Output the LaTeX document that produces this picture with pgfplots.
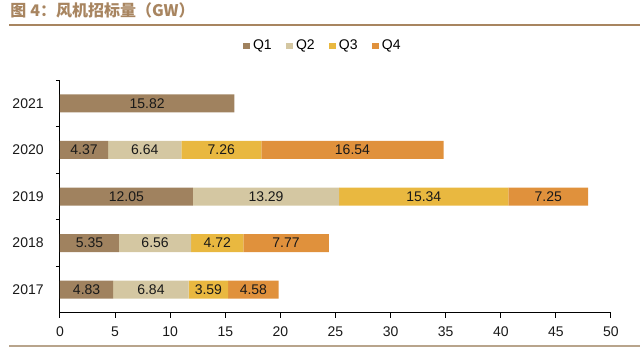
\documentclass[border=0pt]{standalone}
\usepackage{pgfplots}
\pgfplotsset{compat=1.18}
\usepackage{fontspec}
\setmainfont{Liberation Sans}
\newfontfamily\cjk{Noto Sans CJK SC}
\definecolor{q1}{HTML}{A0825F}
\definecolor{q2}{HTML}{D4C7A2}
\definecolor{q3}{HTML}{E9B840}
\definecolor{q4}{HTML}{E0913C}
\definecolor{ttl}{HTML}{A88560}
\definecolor{rule}{HTML}{B8A48C}
\begin{document}
\begin{tikzpicture}
\useasboundingbox (0,0) rectangle (480pt,267.75pt);
\node[anchor=base west, text=ttl, inner sep=0pt, font={\cjk\bfseries\fontsize{12}{14}\selectfont}] at (7.5pt,255pt) {图\hspace{3pt}4：风机招标量（GW）};
\draw[ttl, line width=1.1pt] (7pt,249pt) -- (480pt,249pt);
\draw[rule, line width=1.1pt] (7pt,8.25pt) -- (480pt,8.25pt);
\begin{axis}[
  at={(45pt,33pt)}, anchor=south west,
  scale only axis, width=413.25pt, height=174.75pt,
  xbar stacked, bar width=13.5pt,
  xmin=0, xmax=50, ymin=-0.5, ymax=4.5,
  xtick={0,5,...,50},
  ytick={0,1,2,3,4},
  yticklabels={2017,2018,2019,2020,2021},
  minor ytick={0.5,1.5,2.5,3.5,4.5},
  major tick length=3.75pt,
  minor tick length=3pt,
  tick align=outside,
  ytick style={draw=none},
  minor y tick style={draw=black, line width=0.75pt},
  xtick style={draw=black, line width=0.75pt},
  axis x line*=bottom, axis y line*=left,
  axis line style={black, line width=0.75pt, -},
  tick label style={font=\fontsize{10.5}{12}\selectfont, text=black!90},
  /pgf/number format/assume math mode=true,
  xticklabel style={yshift=-3pt},
  yticklabel style={xshift=-5pt},
  legend columns=4,
  legend style={draw=none, at={(0.478,1.146)}, anchor=center,
     font=\fontsize{10.5}{12}\selectfont,
     /tikz/every even column/.append style={column sep=9pt}},
  legend image code/.code={\fill[#1] (0pt,-2.6pt) rectangle (5.2pt,2.6pt);},
]
\addplot[fill=q1, draw=none] coordinates {(4.83,0) (5.35,1) (12.05,2) (4.37,3) (15.82,4)};
\addplot[fill=q2, draw=none] coordinates {(6.84,0) (6.56,1) (13.29,2) (6.64,3) (0,4)};
\addplot[fill=q3, draw=none] coordinates {(3.59,0) (4.72,1) (15.34,2) (7.26,3) (0,4)};
\addplot[fill=q4, draw=none] coordinates {(4.58,0) (7.77,1) (7.25,2) (16.54,3) (0,4)};
\legend{Q1,Q2,Q3,Q4}
\end{axis}
\begin{axis}[
  at={(45pt,33pt)}, anchor=south west,
  scale only axis, width=413.25pt, height=174.75pt,
  xmin=0, xmax=50, ymin=-0.5, ymax=4.5,
  hide axis,
]
\addplot[only marks, mark=none, nodes near coords, point meta=explicit symbolic,
  every node near coord/.append style={anchor=center, font=\fontsize{10.5}{12}\selectfont, text=black!90}]
  table[meta=label] {
x y label
2.415 0 4.83
8.25 0 6.84
13.465 0 3.59
17.55 0 4.58
2.675 1 5.35
8.63 1 6.56
14.27 1 4.72
20.515 1 7.77
6.025 2 12.05
18.695 2 13.29
33.01 2 15.34
44.305 2 7.25
2.185 3 4.37
7.69 3 6.64
14.64 3 7.26
26.54 3 16.54
7.91 4 15.82
};
\end{axis}
\end{tikzpicture}
\end{document}
